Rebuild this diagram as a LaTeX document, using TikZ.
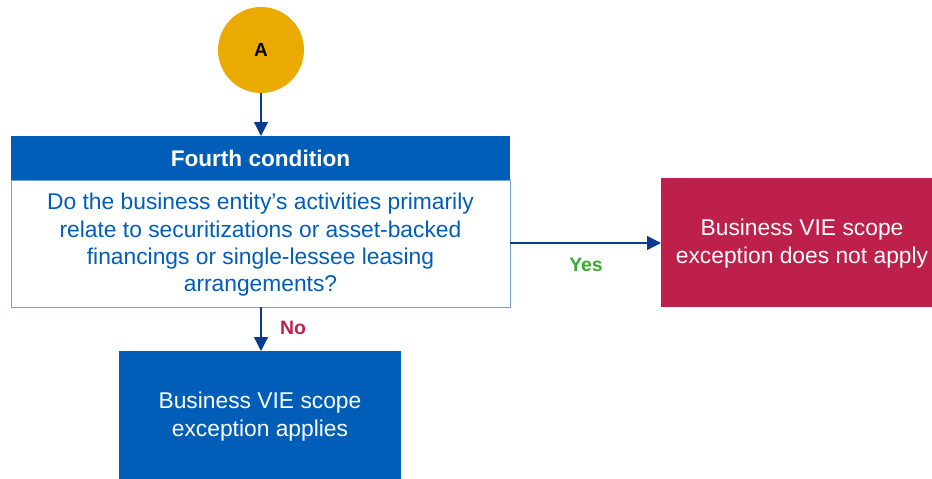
\documentclass[tikz,border=0pt]{standalone}
\usepackage{fontspec}
\setmainfont{Liberation Sans}
\usetikzlibrary{arrows.meta}
\definecolor{gold}{HTML}{EAAA00}
\definecolor{kblue}{HTML}{005EB8}
\definecolor{kred}{HTML}{BC204B}
\definecolor{arrowblue}{HTML}{0C3A8E}
\definecolor{lineblue}{HTML}{6FA3D8}
\definecolor{ygreen}{HTML}{3AAA35}
\tikzset{
  x=1pt,y=-1pt,
  conn/.style={draw=arrowblue,line width=1.3pt,-{Triangle[length=14pt,width=14pt]}},
  fillbox/.style={inner sep=0pt,outer sep=0pt,text=white,align=center,font=\fontsize{22.8}{28}\selectfont},
  lbl/.style={font=\bfseries\fontsize{19.4}{22}\selectfont}
}
\begin{document}
\begin{tikzpicture}
\useasboundingbox (0,0) rectangle (932,479);
% circle A
\node[circle,fill=gold,minimum size=86pt,inner sep=0pt,font=\bfseries\fontsize{19}{21}\selectfont] (a) at (261,50) {A};
% header
\node[fill=kblue,minimum width=499pt,minimum height=44pt,fillbox,font=\bfseries\fontsize{22.6}{26}\selectfont] (head) at (260.5,158) {Fourth condition};
% body
\node[draw=lineblue,line width=0.8pt,fill=white,minimum width=499pt,minimum height=127pt,inner sep=0pt,outer sep=0pt,text=kblue,align=center,font=\fontsize{22.8}{27.3}\selectfont] (body) at (260.5,243.5) {};
\node[text=kblue,align=center,font=\fontsize{22.8}{27.3}\selectfont,inner sep=0pt] (bodyt) at (260.5,245) {Do the business entity’s activities primarily\\relate to securitizations or asset-backed\\financings or single-lessee leasing\\arrangements?};
% red box
\node[fill=kred,minimum width=271pt,minimum height=129pt,fillbox] (red) at (796.5,242.5) {};
\node[text=white,align=center,font=\fontsize{22.8}{28}\selectfont,inner sep=0pt] (redt) at (802,243.5) {Business VIE scope\\exception does not apply};
% blue box
\node[fill=kblue,minimum width=282pt,minimum height=128pt,fillbox] (blue) at (260,415) {};
\node[text=white,align=center,font=\fontsize{22.8}{28}\selectfont,inner sep=0pt] (bluet) at (260,416.5) {Business VIE scope\\exception applies};
% connectors
\draw[conn] (a.south) -- (head.north -| a);
\coordinate (yesstart) at (body.east |- 0,243);
\draw[conn] (yesstart) -- (red.west |- yesstart);
\draw[conn] (body.south -| a) -- (blue.north -| a);
\node[lbl,text=ygreen] (yes) at (586,265) {Yes};
\node[lbl,text=kred] (no) at (293,328) {No};
\end{tikzpicture}
\end{document}
